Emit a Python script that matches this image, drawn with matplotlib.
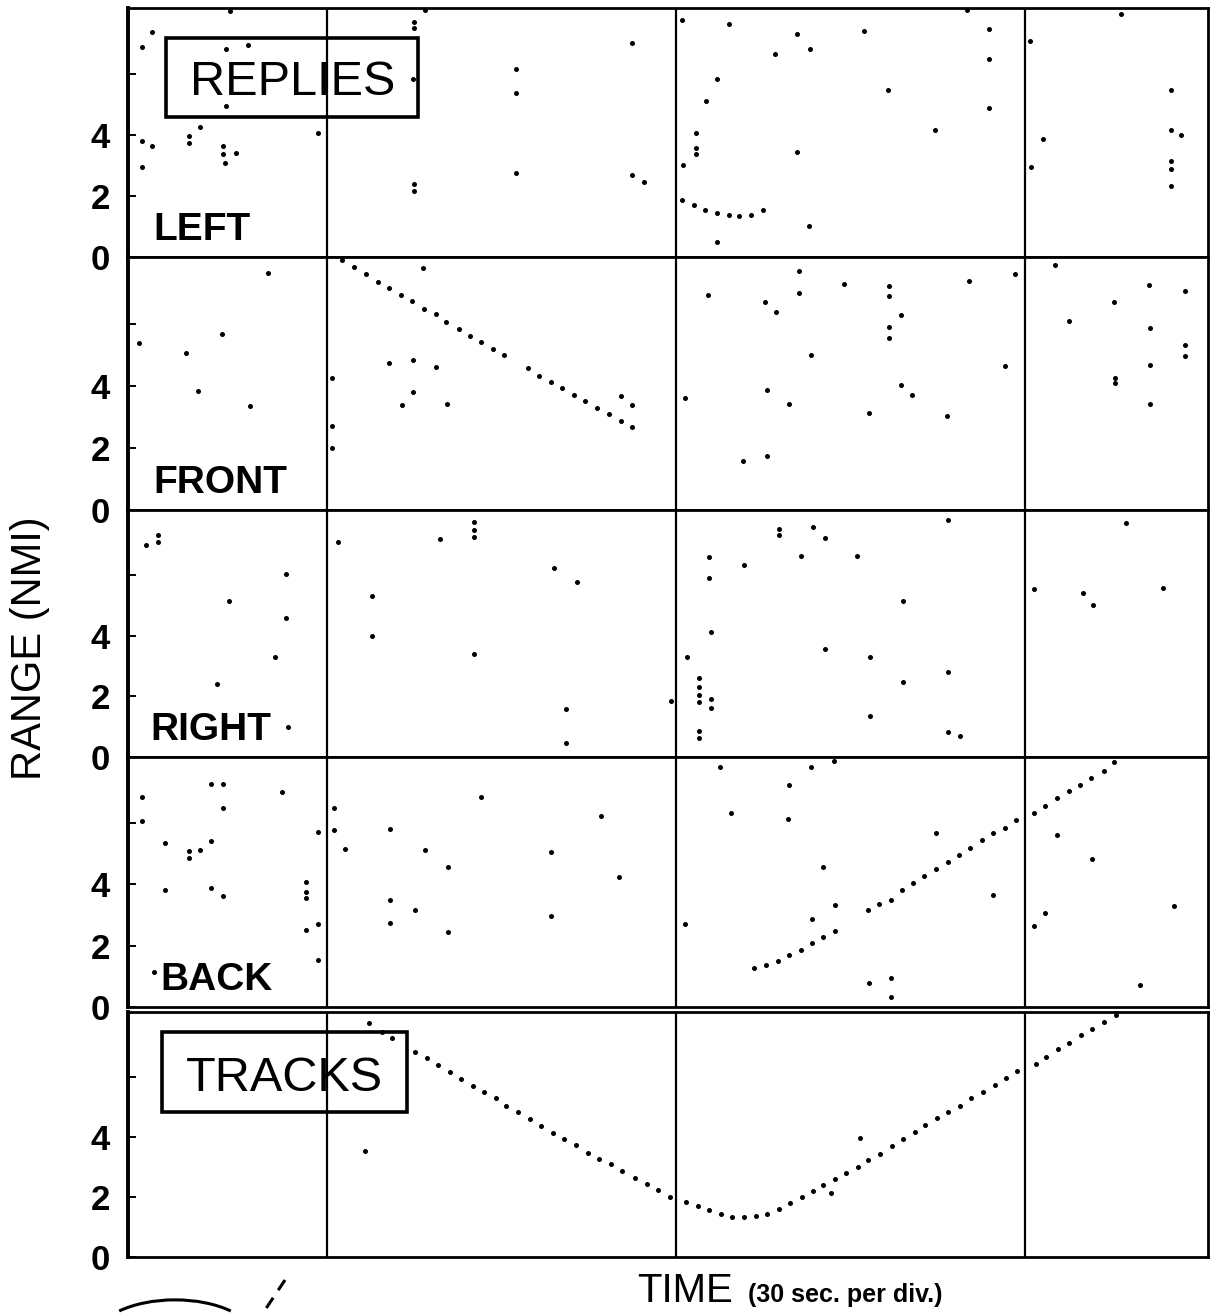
import numpy as np
import matplotlib.pyplot as plt
from matplotlib.patches import Rectangle, Arc
from matplotlib.lines import Line2D

plt.rcParams['font.family'] = ['Liberation Sans', 'DejaVu Sans']

# time in seconds (30 sec per division), range in nmi
div_ticks = [30, 60, 90]
range_ticks = [0, 2, 4, 6]
range_labels = ['0', '2', '4', '']
t_lim = (12.9, 105.7)
r_lim = (0, 8.15)

left_t = [15.0, 14.1, 21.3, 23.2, 21.3, 21.7, 37.5, 37.5, 38.4, 37.4, 37.5, 37.5, 46.2, 46.2, 46.2,
          56.2, 56.2, 57.2, 29.2, 19.1, 18.1, 18.1, 21.1, 21.1, 22.2, 21.2, 14.1, 15.0, 14.1,
          60.5, 64.5, 70.4, 76.1, 71.5, 68.5, 63.5, 62.6, 85.0, 86.9, 86.9, 78.2, 86.9, 82.2,
          61.7, 61.7, 61.7, 60.6, 70.4, 60.5, 61.5, 62.5, 63.5, 64.5, 65.4, 66.4, 67.5,
          71.4, 63.5, 98.2, 90.4, 102.5, 102.5, 103.4, 91.5, 90.5, 102.5, 102.5, 102.5]
left_r = [7.37, 6.87, 6.82, 6.95, 4.93, 8.06, 7.70, 7.48, 8.10, 5.82, 2.38, 2.16, 6.16, 5.37, 2.76,
          7.02, 2.69, 2.47, 4.06, 4.27, 3.95, 3.73, 3.64, 3.37, 3.42, 3.09, 3.80, 3.64, 2.93,
          7.75, 7.64, 7.31, 7.39, 6.82, 6.66, 5.83, 5.10, 8.08, 7.46, 6.49, 5.45, 4.88, 4.17,
          4.05, 3.56, 3.37, 3.02, 3.45, 1.88, 1.71, 1.55, 1.45, 1.38, 1.35, 1.38, 1.55,
          1.02, 0.49, 7.95, 7.06, 5.47, 4.16, 3.99, 3.86, 2.93, 3.13, 2.87, 2.32]

front_t = [13.87, 17.88, 21.0, 24.95, 18.94, 23.4,
           32.35, 33.35, 34.36, 35.33, 36.36, 37.33, 38.31, 39.34, 40.23, 41.32, 42.26, 43.24,
           44.24, 45.24, 47.25, 48.22, 49.23, 50.20, 51.21, 52.18, 53.24, 54.24, 55.27, 56.24,
           38.28, 31.3, 35.36, 37.37, 39.34, 37.37, 36.42, 40.32, 55.27, 56.24, 60.8,
           30.46, 30.46, 30.46,
           62.74, 70.58, 70.58, 67.61, 68.62, 74.44, 78.31, 78.31, 79.32, 78.31, 78.31, 85.14,
           89.12, 71.59, 88.23, 67.79, 69.69, 79.32, 80.27, 76.53, 83.24, 65.71, 67.79,
           92.57, 93.76, 97.62, 100.6, 103.7, 100.7, 103.7, 103.7, 100.7, 97.7, 97.7, 100.7]
front_r = [5.39, 5.07, 5.66, 7.65, 3.84, 3.36,
           7.83, 7.60, 7.36, 7.15, 6.92, 6.74, 6.47, 6.31, 6.07, 5.84, 5.62, 5.41,
           5.19, 4.98, 4.56, 4.32, 4.12, 3.93, 3.69, 3.50, 3.29, 3.10, 2.87, 2.68,
           7.79, 8.05, 4.72, 4.83, 4.60, 3.79, 3.39, 3.41, 3.67, 3.37, 3.61,
           4.24, 2.71, 2.00,
           6.92, 7.71, 7.00, 6.71, 6.38, 7.29, 7.23, 6.89, 6.28, 5.90, 5.55, 7.37,
           7.59, 4.99, 4.64, 3.88, 3.43, 4.02, 3.69, 3.13, 3.03, 1.58, 1.74,
           7.88, 6.08, 6.71, 7.26, 7.05, 5.85, 5.31, 4.96, 4.67, 4.26, 4.10, 3.43]

right_t = [14.43, 15.44, 15.44, 26.49, 21.56, 26.49, 25.54, 20.55, 26.61, 30.95, 39.69,
           42.66, 42.66, 42.66, 33.86, 33.86, 49.49, 51.45, 42.66, 50.56, 50.56, 59.59,
           62.86, 65.83, 62.86, 68.80, 68.80, 71.77, 72.78, 70.76, 75.51, 83.36, 79.49,
           62.98, 72.78, 76.64, 83.36, 79.49, 76.64, 83.36, 84.43, 60.96,
           61.97, 61.97, 61.97, 61.97, 62.98, 62.98, 61.97, 61.97,
           90.78, 94.94, 95.83, 98.69, 101.8]
right_r = [7.01, 7.08, 7.31, 6.04, 5.14, 4.59, 3.31, 2.42, 1.00, 7.08, 7.20,
           7.74, 7.50, 7.26, 5.32, 4.00, 6.22, 5.77, 3.39, 1.58, 0.45, 1.85,
           6.61, 6.34, 5.91, 7.53, 7.31, 7.60, 7.24, 6.63, 6.63, 7.82, 5.14,
           4.11, 3.55, 3.30, 2.82, 2.49, 1.34, 0.81, 0.70, 3.31,
           2.60, 2.31, 2.06, 1.80, 1.91, 1.63, 0.86, 0.62,
           5.54, 5.40, 5.00, 7.71, 5.56]

back_t = [14.1, 14.1, 16.1, 18.1, 18.1, 19.1, 20.05, 20.05, 21.06, 21.06, 26.1, 16.1, 20.05,
          21.06, 28.2, 28.2, 28.2, 28.2, 29.2, 29.2, 29.2, 30.57, 30.57, 31.58, 35.44, 38.41,
          40.37, 43.23, 49.23, 53.56, 55.05, 35.44, 37.52, 35.44, 40.37, 49.23, 15.15,
          60.77, 63.73, 71.63, 73.53, 69.70, 64.71, 69.64, 82.34, 72.61, 92.75, 95.72, 87.24,
          73.62, 71.69, 91.68, 90.73, 102.82, 76.56, 78.43, 78.43, 99.85,
          76.50, 77.45, 78.43, 79.41, 80.39, 81.33, 82.34, 83.32, 84.30, 85.28, 86.26, 87.24,
          88.22, 89.20, 90.73, 91.68, 92.72, 93.76, 94.74, 95.66, 96.73, 97.65,
          66.73, 67.74, 68.75, 69.73, 70.71, 71.69, 72.64, 73.62]
back_r = [6.85, 6.06, 5.36, 5.08, 4.86, 5.11, 5.42, 7.28, 7.26, 6.48, 7.02, 3.82, 3.88,
          3.63, 4.06, 3.74, 3.55, 2.51, 2.70, 1.54, 5.70, 6.50, 5.78, 5.14, 5.81, 5.12,
          4.58, 6.85, 5.06, 6.23, 4.25, 3.50, 3.16, 2.74, 2.46, 2.96, 1.14,
          2.69, 7.83, 7.83, 8.02, 7.25, 6.33, 6.12, 5.68, 4.58, 5.60, 4.84, 3.64,
          3.34, 2.88, 3.07, 2.65, 3.28, 0.78, 0.94, 0.33, 0.73,
          3.15, 3.35, 3.48, 3.82, 4.05, 4.27, 4.50, 4.73, 4.95, 5.17, 5.43, 5.66,
          5.84, 6.10, 6.33, 6.55, 6.80, 7.03, 7.24, 7.47, 7.69, 7.98,
          1.26, 1.37, 1.51, 1.69, 1.87, 2.08, 2.27, 2.47]

tracks_t = [33.58, 34.73, 35.57, 37.56, 38.56, 39.55, 40.55, 41.54, 42.54, 43.53, 44.53, 45.42,
            46.42, 47.41, 48.41, 49.40, 50.40, 51.39, 52.39, 53.38, 54.38, 55.37, 56.47, 57.46,
            58.46, 59.45, 60.85, 61.84, 62.84, 63.83, 64.83, 65.82, 66.82, 67.81, 68.81, 69.80,
            70.80, 71.79, 72.64, 73.63, 74.63, 75.62, 76.52, 77.51, 78.51, 79.50, 80.50, 81.39,
            82.39, 83.38, 84.38, 85.37, 86.37, 87.36, 88.31, 89.30, 90.90, 91.79, 92.79, 93.78,
            94.78, 95.77, 96.77, 97.76, 73.28, 75.77, 33.3]
tracks_r = [7.79, 7.49, 7.30, 6.83, 6.61, 6.38, 6.17, 5.93, 5.69, 5.48, 5.28, 5.03,
            4.81, 4.60, 4.35, 4.13, 3.93, 3.72, 3.46, 3.26, 3.09, 2.86, 2.64, 2.42,
            2.22, 2.00, 1.83, 1.68, 1.57, 1.44, 1.34, 1.33, 1.37, 1.44, 1.61, 1.78,
            1.98, 2.18, 2.40, 2.58, 2.81, 3.00, 3.22, 3.44, 3.69, 3.93, 4.15, 4.39,
            4.61, 4.81, 5.03, 5.29, 5.49, 5.73, 5.96, 6.19, 6.42, 6.65, 6.91, 7.13,
            7.38, 7.60, 7.83, 8.05, 2.14, 3.96, 3.52]

panel_names = ['LEFT', 'FRONT', 'RIGHT', 'BACK', '']
panel_t = [left_t, front_t, right_t, back_t, tracks_t]
panel_r = [left_r, front_r, right_r, back_r, tracks_r]

W, H = 1210, 1313
fig = plt.figure(figsize=(W / 100, H / 100), dpi=100)

# pixel rows of each panel (top, bottom)
rows = [(8, 257), (257, 510), (510, 757), (757, 1007), (1012, 1257)]
name_x = [153, 153, 150, 160, 0]

axes = []
for i, (top, bot) in enumerate(rows):
    ax = fig.add_axes([128 / W, 1 - bot / H, 1080 / W, (bot - top) / H])
    ax.plot(panel_t[i], panel_r[i], 'o', color='black', ms=3.6, mew=0, clip_on=False)
    ax.set_xlim(*t_lim)
    ax.set_ylim(*r_lim)
    ax.set_xticks(div_ticks)
    ax.set_xticklabels([])
    ax.grid(axis='x', color='black', lw=1.6)
    ax.tick_params(axis='x', length=0)
    ax.set_yticks(range_ticks)
    ax.set_yticklabels(range_labels)
    ax.tick_params(axis='y', direction='in', length=6, width=1.4, pad=13,
                   labelsize=25)
    for lab in ax.get_yticklabels():
        lab.set_fontweight('bold')
    for s in ax.spines.values():
        s.set_linewidth(2.0)
    ax.spines['left'].set_linewidth(2.8)
    if panel_names[i]:
        ax.text((name_x[i] - 128) / 1080, 17 / (bot - top), panel_names[i],
                transform=ax.transAxes, fontsize=28, fontweight='bold',
                ha='left', va='baseline')
    axes.append(ax)

# REPLIES box
ax = axes[0]
ax.add_patch(Rectangle((38 / 1080, 140 / 249), 252 / 1080, 79 / 249, transform=ax.transAxes,
                       fill=False, lw=2.6, ec='black', clip_on=False))
ax.text(164.5 / 1080, 162 / 249, 'REPLIES', transform=ax.transAxes, fontsize=35,
        ha='center', va='baseline')

# TRACKS box
ax = axes[4]
ax.add_patch(Rectangle((34 / 1080, 145 / 245), 245 / 1080, 80 / 245, transform=ax.transAxes,
                       fill=False, lw=2.6, ec='black', clip_on=False))
ax.text(156.5 / 1080, 166 / 245, 'TRACKS', transform=ax.transAxes, fontsize=35,
        ha='center', va='baseline')

fig.text(30 / W, 1 - 648 / H, 'RANGE (NMI)', rotation=90, fontsize=30,
         ha='center', va='center')
fig.text(637 / W, 1 - 1302 / H, 'TIME', fontsize=29, ha='left', va='baseline')
fig.text(748 / W, 1 - 1302 / H, '(30 sec. per div.)', fontsize=18, fontweight='bold',
         ha='left', va='baseline')

# stray marks from the scanned page
fig.patches.append(Arc((175 / W, -0.02), 160 / W, 0.06, theta1=25, theta2=155,
                       transform=fig.transFigure, lw=2.2, color='black'))
fig.lines.append(Line2D([285 / W, 263 / W], [1 - 1280 / H, 1 - 1313 / H],
                        transform=fig.transFigure, lw=2.2, color='black',
                        linestyle=(0, (4, 3))))

fig.savefig('out.png', dpi=100)
